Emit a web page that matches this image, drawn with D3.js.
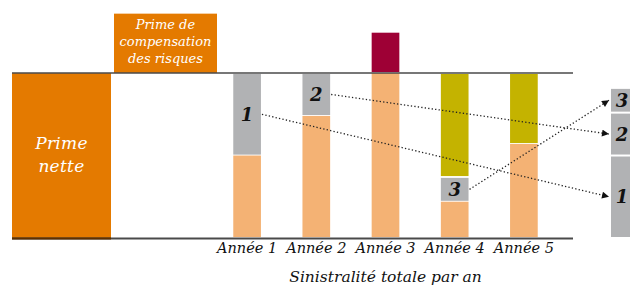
<!DOCTYPE html>
<html><head><meta charset="utf-8">
<script src="https://cdn.jsdelivr.net/npm/d3@7"></script>
<style>
html,body{margin:0;padding:0;background:#fff;}
svg{display:block;}
</style></head>
<body>
<svg id="chart" width="630" height="290"></svg>
<script>
// ---- data ----
const categories = ["Année 1", "Année 2", "Année 3", "Année 4", "Année 5"];
const sinistres  = [50, 74, 100, 22, 57];   // light orange
const surplus    = [50, 26, 0, 15, 0];      // grey (numbered)
const surplusLabel = ["1", "2", "", "3", ""];
const reprise    = [0, 0, 0, 63, 43];       // olive
const depassement= [0, 0, 25, 0, 0];        // red, above the line
const primeNette = 100;
const primeCompensation = 36;
const reserveLabels = ["1", "2", "3"];
const reserveValues = [50, 26, 15];
const axisTitle = "Sinistralité totale par an";

// ---- colours ----
const C = {dark:"#E47A00", light:"#F4B274", grey:"#B1B2B4", red:"#9E0035", olive:"#C4B300", line:"#4a4a4a"};
const FONT = "DejaVu Serif";

const svg = d3.select("#chart");
const y = d3.scaleLinear().domain([0, 137]).range([238, 12]);
const x = d3.scaleBand().domain(categories).range([212.5, 558.5]).paddingInner(0.6).paddingOuter(0.3);
const xL = 12, xR = 573;

function txt(g, xx, yy, t, size, fill, bold) {
  return g.append("text").attr("x", xx).attr("y", yy).attr("text-anchor","middle")
    .style("font-family", FONT).style("font-style","italic").style("font-size", size + "px")
    .style("font-weight", bold ? "bold" : "normal").attr("fill", fill).text(t);
}

// Prime nette box
svg.append("rect").attr("x", 12).attr("width", 99)
  .attr("y", y(primeNette)).attr("height", y(0) - y(primeNette)).attr("fill", C.dark);
txt(svg, 61.5, 149, "Prime", 17, "#fff").attr("letter-spacing", 0.3);
txt(svg, 61.5, 171.5, "nette", 17, "#fff").attr("letter-spacing", 0.3);

// Prime de compensation box
svg.append("rect").attr("x", 114).attr("width", 103)
  .attr("y", y(primeNette + primeCompensation)).attr("height", y(primeNette) - y(primeNette + primeCompensation)).attr("fill", C.dark);
["Prime de", "compensation", "des risques"].forEach((t, i) => txt(svg, 165.5, 29 + i * 17, t, 13, "#fff"));

// stacked bars
const rows = categories.map((c, i) => ({c, i, segs: [
  {v: sinistres[i], col: C.light},
  {v: surplus[i], col: C.grey, lab: surplusLabel[i]},
  {v: reprise[i], col: C.olive},
  {v: depassement[i], col: C.red}
]}));
const segData = [];
rows.forEach(r => {
  let acc = 0;
  r.segs.forEach(s => {
    if (s.v > 0) segData.push({c: r.c, y0: acc, y1: acc + s.v, col: s.col, lab: s.lab});
    acc += s.v;
  });
});
svg.append("g").selectAll("rect").data(segData).join("rect")
  .attr("x", d => x(d.c)).attr("width", x.bandwidth())
  .attr("y", d => y(d.y1) + (d.y0 > 0 ? 0.9 : 0))
  .attr("height", d => y(d.y0) - y(d.y1) - (d.y0 > 0 ? 0.9 : 0) - (d.y1 < 137 ? 0.9 : 0))
  .attr("fill", d => d.col);

// right reserve stack
const rx = 611, rw = 25;
let racc = 0;
const resData = reserveValues.map((v, i) => { const o = {v, lab: reserveLabels[i], y0: racc, y1: racc + v}; racc += v; return o; });
svg.append("g").selectAll("rect").data(resData).join("rect")
  .attr("x", rx).attr("width", rw)
  .attr("y", d => y(d.y1) + 1).attr("height", d => y(d.y0) - y(d.y1) - 2)
  .attr("fill", C.grey);

// lines
svg.append("line").attr("x1", xL).attr("x2", xR).attr("y1", y(primeNette)).attr("y2", y(primeNette))
  .attr("stroke", C.line).attr("stroke-width", 1.6);
svg.append("line").attr("x1", xL).attr("x2", xR).attr("y1", y(0) + 0.5).attr("y2", y(0) + 0.5)
  .attr("stroke", C.line).attr("stroke-width", 2);
svg.append("line").attr("x1", xL).attr("x2", 111).attr("y1", y(0) + 0.5).attr("y2", y(0) + 0.5)
  .attr("stroke", "#5e3000").attr("stroke-width", 2);

// arrows
svg.append("defs").append("marker").attr("id","arr").attr("viewBox","0 0 10 10")
  .attr("refX",10).attr("refY",5).attr("markerWidth",9).attr("markerHeight",7)
  .attr("markerUnits","userSpaceOnUse").attr("orient","auto")
  .append("path").attr("d","M0,0 L10,5 L0,10 Z").attr("fill","#111");

const labelled = segData.filter(d => d.lab);
labelled.forEach(d => {
  const cy = (y(d.y0) + y(d.y1)) / 2;
  txt(svg, x(d.c) + x.bandwidth() / 2, cy + 6.5, d.lab, 18, "#111", true);
  const r = resData.find(e => e.lab === d.lab);
  const ty = (y(r.y0) + y(r.y1)) / 2;
  svg.append("line").attr("x1", x(d.c) + x.bandwidth() + 1).attr("y1", cy)
    .attr("x2", rx - 2).attr("y2", ty)
    .attr("stroke","#222").attr("stroke-width",1.3).attr("stroke-dasharray","1.3,2.2")
    .attr("marker-end","url(#arr)");
});
resData.forEach(d => txt(svg, rx + 11, (y(d.y0) + y(d.y1)) / 2 + 6.5, d.lab, 18, "#111", true));

// axis labels
categories.forEach(c => txt(svg, x(c) + x.bandwidth() / 2, 253, c, 14.5, "#111"));
txt(svg, (x(categories[0]) + x(categories[4]) + x.bandwidth()) / 2, 282, axisTitle, 15.5, "#111");
</script>
</body></html>
